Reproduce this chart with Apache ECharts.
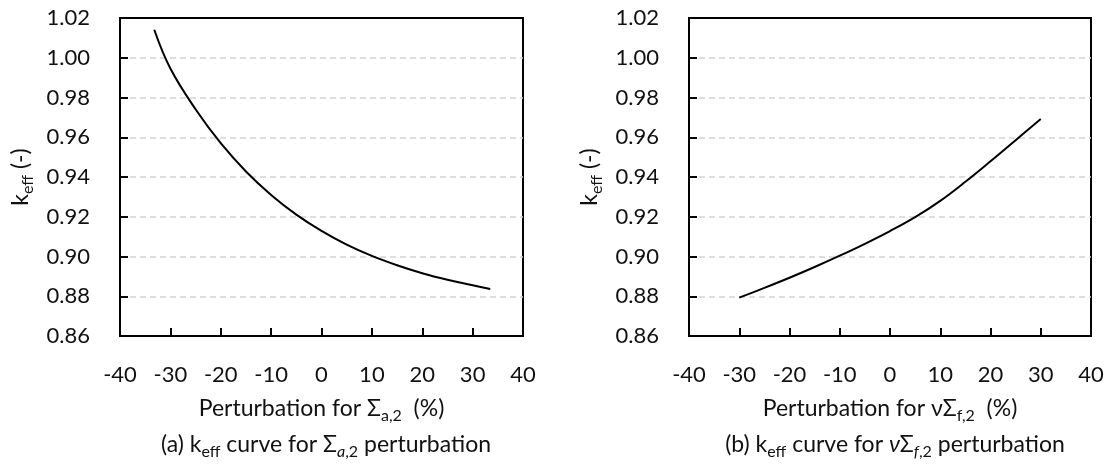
<!DOCTYPE html>
<html><head><meta charset="utf-8">
<script src="https://cdn.jsdelivr.net/npm/echarts@6/dist/echarts.min.js"></script>
<style>html,body{margin:0;padding:0;background:#fff}#c{width:1107px;height:466px}</style>
</head><body><div id="c"></div>
<script>
// ---- data ----
const xA = [-33.2, -30, -25, -20, -15, -10, -5, 0, 5, 10, 15, 20, 25, 30, 33.5];
const kA = [1.0141, 0.9946, 0.9741, 0.9570, 0.9428, 0.9310, 0.9211, 0.9129, 0.9060, 0.9003, 0.8956, 0.8916, 0.8883, 0.8855, 0.8836];
const xB = [-30, -25, -20, -15, -10, -5, 0, 5, 10, 15, 20, 25, 30];
const kB = [0.8793, 0.8842, 0.8893, 0.8947, 0.9004, 0.9064, 0.9128, 0.9198, 0.9280, 0.9376, 0.9479, 0.9585, 0.9692];
const xRange = [-40, 40, 10];
const yRange = [0.86, 1.02, 0.02];
const titles = ['(a) k{sub|eff} curve for Σ{subi|a}{sub|,2} perturbation',
                '(b) k{sub|eff} curve for {it|ν}Σ{subi|f}{sub|,2} perturbation'];
const xNames = ['Perturbation for Σ{sub|a,2}  (%)', 'Perturbation for νΣ{sub|f,2}  (%)'];
const yName = 'k{sub|eff} (-)';

// ---- style ----
const FONT = 'Lato';
const TXT = '#111';
const FS = 22;
function mkRich(fs) {
  const sfs = Math.round(fs * 0.68);
  return {
    sub: {fontFamily: FONT, fontSize: sfs, fontWeight: 'normal', color: TXT, verticalAlign: 'bottom', lineHeight: sfs},
    subi: {fontFamily: FONT, fontSize: sfs, fontWeight: 'normal', color: TXT, fontStyle: 'italic', verticalAlign: 'bottom', lineHeight: sfs},
    it: {fontFamily: FONT, fontSize: fs, fontWeight: 'normal', color: TXT, fontStyle: 'italic'}
  };
}
function mkText(fs) {
  return {fontFamily: FONT, fontSize: fs, fontWeight: 'normal', color: TXT, lineHeight: 30, rich: mkRich(fs)};
}

const grids = [
  {left: 120, right: 584, top: 18, bottom: 130},
  {left: 689, right: 16, top: 18, bottom: 130}
];

function xAx(i) {
  return {
    gridIndex: i, type: 'value', min: xRange[0], max: xRange[1], interval: xRange[2],
    name: xNames[i], nameLocation: 'middle', nameGap: 58, nameTextStyle: mkText(23),
    axisLine: {show: true, onZero: false, lineStyle: {color: '#000', width: 2}},
    axisTick: {show: true, inside: true, length: 8, lineStyle: {color: '#000', width: 2}},
    axisLabel: {margin: 28, fontFamily: FONT, fontSize: FS, color: TXT},
    splitLine: {show: false}
  };
}
function yAx(i) {
  return {
    gridIndex: i, type: 'value', min: yRange[0], max: yRange[1], interval: yRange[2],
    name: yName, nameLocation: 'middle', nameGap: 84, nameRotate: 90, nameTextStyle: mkText(23),
    axisLine: {show: true, onZero: false, lineStyle: {color: '#000', width: 2}},
    axisTick: {show: true, inside: true, length: 8, lineStyle: {color: '#000', width: 2}},
    axisLabel: {margin: 30, fontFamily: FONT, fontSize: FS, color: TXT, formatter: v => v.toFixed(2)},
    splitLine: {show: true, showMinLine: false, showMaxLine: false,
      lineStyle: {color: '#d4d4d4', width: 1.5, type: [6, 4]}}
  };
}

const chart = echarts.init(document.getElementById('c'), null, {renderer: 'canvas'});
chart.setOption({
  backgroundColor: '#fff',
  animation: false,
  title: [
    {text: titles[0], left: 321, top: 425, textAlign: 'center', textStyle: mkText(23)},
    {text: titles[1], left: 890, top: 425, textAlign: 'center', textStyle: mkText(23)}
  ],
  grid: grids.map(g => Object.assign({show: true, borderColor: '#000', borderWidth: 2, backgroundColor: 'transparent'}, g)),
  xAxis: [xAx(0), xAx(1)],
  yAxis: [yAx(0), yAx(1)],
  series: [
    {type: 'line', xAxisIndex: 0, yAxisIndex: 0, data: xA.map((x, j) => [x, kA[j]]),
     smooth: 0.4, showSymbol: false, lineStyle: {color: '#000', width: 2}},
    {type: 'line', xAxisIndex: 1, yAxisIndex: 1, data: xB.map((x, j) => [x, kB[j]]),
     smooth: 0.4, showSymbol: false, lineStyle: {color: '#000', width: 2}}
  ]
});
</script></body></html>
